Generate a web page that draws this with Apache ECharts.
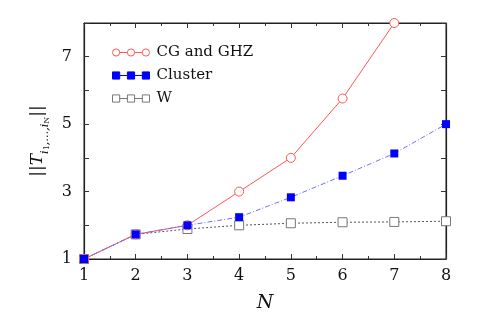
<!DOCTYPE html>
<html>
<head>
<meta charset="utf-8">
<script src="https://cdn.jsdelivr.net/npm/echarts@6/dist/echarts.min.js"></script>
<style>html,body{margin:0;padding:0;background:#fff}#c{width:481px;height:318px}</style>
</head>
<body>
<div id="c"></div>
<script>
const N = [1, 2, 3, 4, 5, 6, 7, 8];
const cgGhz = [1, 1.73, 2, 3, 4, 5.76, 8];
const cluster = [1, 1.73, 2, 2.24, 2.83, 3.47, 4.13, 5];
const wState = [1, 1.73, 1.89, 2.0, 2.06, 2.09, 2.1, 2.12];
const yTickLabels = ['1', '3', '5', '7'];
const seriesNames = ['CG and GHZ', 'Cluster', 'W'];

const pair = (xs, ys) => ys.map((v, i) => [xs[i], v]);
const FONT = '"DejaVu Serif", "Liberation Serif", serif';

const circIcon = 'path://M0.5,4a3.5,3.5 0 1,0 7,0a3.5,3.5 0 1,0 -7,0M7.5,4L15,4M15,4a3.5,3.5 0 1,0 7,0a3.5,3.5 0 1,0 -7,0M22,4L29.5,4M29.5,4a3.5,3.5 0 1,0 7,0a3.5,3.5 0 1,0 -7,0';
const sqIcon = 'path://M0.5,0.5h7v7h-7zM7.5,4L15,4M15,0.5h7v7h-7zM22,4L29.5,4M29.5,0.5h7v7h-7z';

const chart = echarts.init(document.getElementById('c'), null, {renderer: 'canvas'});
chart.setOption({
  animation: false,
  grid: {left: 84, right: 35, top: 23, bottom: 59, show: true, borderColor: '#222', borderWidth: 1, backgroundColor: 'transparent'},
  legend: {
    orient: 'vertical', left: 107, top: 40, itemWidth: 37, itemHeight: 8, itemGap: 8,
    textStyle: {fontFamily: FONT, fontSize: 15, color: '#111', padding: [0, 0, 0, 2]},
    data: [
      {name: seriesNames[0], icon: circIcon, itemStyle: {color: '#fff', borderColor: '#ff5555', borderWidth: 1}},
      {name: seriesNames[1], icon: sqIcon, itemStyle: {color: '#0000ff', borderColor: '#0000ff', borderWidth: 1}},
      {name: seriesNames[2], icon: sqIcon, itemStyle: {color: '#fff', borderColor: '#777', borderWidth: 1}}
    ]
  },
  xAxis: [
    {
      type: 'value', min: 1, max: 8, interval: 1, position: 'bottom',
      axisLine: {show: true, onZero: false, lineStyle: {color: '#222', width: 1.2}},
      axisTick: {show: true, inside: true, length: 5, lineStyle: {color: '#333'}},
      splitLine: {show: false},
      minorTick: {show: true, splitNumber: 2, length: 3, lineStyle: {color: '#333'}},
      axisLabel: {fontFamily: FONT, fontSize: 16, color: '#111', margin: 9},
      name: 'N', nameLocation: 'middle', nameGap: 35,
      nameTextStyle: {fontFamily: FONT, fontStyle: 'italic', fontSize: 19, color: '#111'}
    },
    {
      type: 'value', min: 1, max: 8, interval: 1, position: 'top',
      axisLine: {show: true, onZero: false, lineStyle: {color: '#222', width: 1.2}},
      axisTick: {show: true, inside: true, length: 5, lineStyle: {color: '#333'}},
      splitLine: {show: false},
      minorTick: {show: true, splitNumber: 2, length: 3, lineStyle: {color: '#333'}},
      axisLabel: {show: false}
    }
  ],
  yAxis: [
    {
      type: 'value', min: 1, max: 8, interval: 1, position: 'left',
      axisLine: {show: true, onZero: false, lineStyle: {color: '#222', width: 1.2}},
      axisTick: {show: true, inside: true, length: 5, lineStyle: {color: '#333'}},
      splitLine: {show: false},
      axisLabel: {fontFamily: FONT, fontSize: 16, color: '#111', margin: 12,
        formatter: v => (yTickLabels.indexOf(String(v)) >= 0 ? String(v) : '')},
      name: '{b|||}{t|T}{s|i}{ss|1}{s|,…,i}{ss|N}{b|||}',
      nameLocation: 'middle', nameRotate: 90, nameGap: 30,
      nameTextStyle: {
        rich: {
          b: {fontFamily: FONT, fontSize: 17, color: '#111', lineHeight: 26, verticalAlign: 'middle'},
          t: {fontFamily: FONT, fontStyle: 'italic', fontSize: 17, color: '#111', lineHeight: 26, verticalAlign: 'middle'},
          s: {fontFamily: FONT, fontStyle: 'italic', fontSize: 11, color: '#111', lineHeight: 11, verticalAlign: 'bottom'},
          ss: {fontFamily: FONT, fontSize: 8, color: '#111', lineHeight: 8, verticalAlign: 'bottom'}
        }
      }
    },
    {
      type: 'value', min: 1, max: 8, interval: 1, position: 'right',
      axisLine: {show: true, onZero: false, lineStyle: {color: '#222', width: 1.2}},
      axisTick: {show: true, inside: true, length: 5, lineStyle: {color: '#333'}},
      splitLine: {show: false},
      axisLabel: {show: false}
    }
  ],
  series: [
    {
      name: seriesNames[0], type: 'line', data: pair(N, cgGhz), z: 2,
      symbol: 'circle', symbolSize: 9,
      itemStyle: {color: '#fff', borderColor: '#ff5555', borderWidth: 1},
      lineStyle: {color: '#ff5555', width: 1}
    },
    {
      name: seriesNames[1], type: 'line', data: pair(N, cluster), z: 4,
      symbol: 'rect', symbolSize: 8,
      itemStyle: {color: '#0000ff', borderColor: '#0000ff', borderWidth: 0},
      lineStyle: {color: '#7070ff', width: 1, type: [5, 2, 1, 2]}
    },
    {
      name: seriesNames[2], type: 'line', data: pair(N, wState), z: 1,
      symbol: 'rect', symbolSize: 9,
      itemStyle: {color: '#fff', borderColor: '#777', borderWidth: 1},
      lineStyle: {color: '#555', width: 1, type: [2, 2]}
    },
    {
      type: 'line', xAxisIndex: 1, yAxisIndex: 1, data: [], silent: true
    }
  ]
});
</script>
</body>
</html>
